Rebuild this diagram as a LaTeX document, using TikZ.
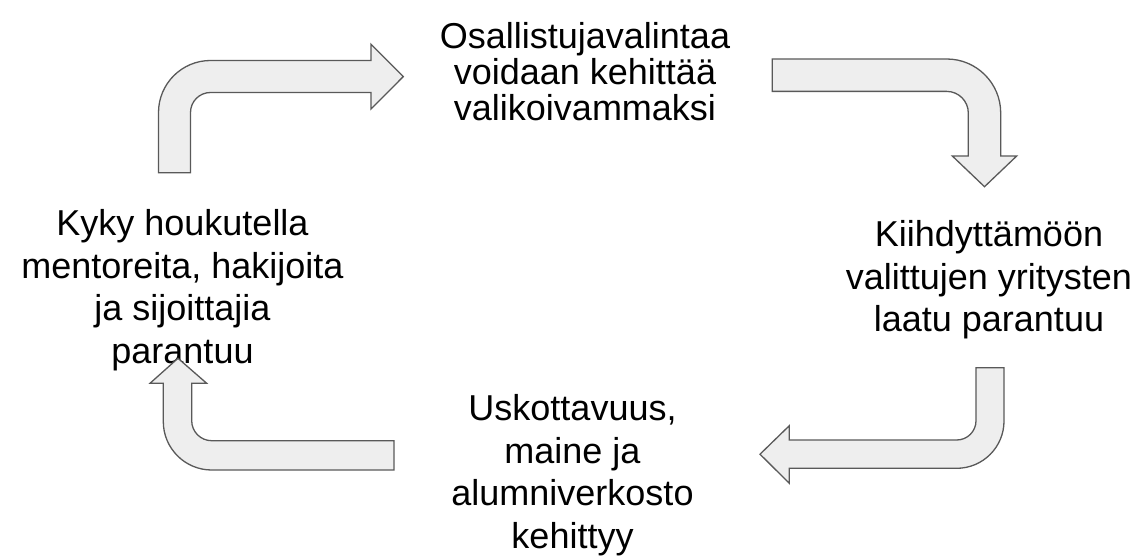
\documentclass[tikz,border=0pt]{standalone}
\usepackage{fontspec}
\setmainfont{Liberation Sans}
\begin{document}
\begin{tikzpicture}[x=1pt,y=-1pt,
  blockarrow/.style={fill=arrowfill,draw=arrowline,line width=1.3pt,line join=miter},
  label/.style={inner sep=0pt,align=center,anchor=base,text=black,font=\fontsize{36}{42.5}\selectfont},
  tightlabel/.style={label,font=\fontsize{36}{36.2}\selectfont}]
\definecolor{arrowfill}{HTML}{EEEEEE}
\definecolor{arrowline}{HTML}{595959}
\useasboundingbox (0,0) rectangle (1142,556);
% texts (anchor = baseline of last line)
\node[tightlabel] (t1) at (585,120.5) {Osallistujavalintaa\\voidaan kehittää\\valikoivammaksi};
\node[label] (t2) at (989,331.7) {Kiihdyttämöön\\valittujen yritysten\\laatu parantuu};
\node[label] (t3) at (572.5,548.3) {Uskottavuus,\\maine ja\\alumniverkosto\\kehittyy};
\node[label] (t4) at (182.5,363.3) {Kyky houkutella\\mentoreita, hakijoita\\ja sijoittajia\\parantuu};
% arrow 1 (left -> top)
\draw[blockarrow] (158.5,172.7) -- (158.5,112.5) arc[start angle=180,end angle=270,radius=52]
  -- (371,60.5) -- (371,44.3) -- (403.3,76.6) -- (371,109) -- (371,92.5) -- (210.5,92.5)
  arc[start angle=270,end angle=180,radius=20] -- (190.5,172.7) -- cycle;
% arrow 2 (top -> right)
\draw[blockarrow] (772.3,59) -- (946.7,59) arc[start angle=270,end angle=360,radius=54]
  -- (1000.7,156) -- (1016.7,156) -- (984.5,186.7) -- (952.3,156) -- (968.3,156) -- (968.3,113)
  arc[start angle=360,end angle=270,radius=21.6] -- (772.3,91.4) -- cycle;
% arrow 3 (right -> bottom)
\draw[blockarrow] (1004,367.7) -- (1004,421) arc[start angle=0,end angle=90,radius=47.3]
  -- (789.3,468.3) -- (789.3,483.3) -- (760,454.2) -- (789.3,425.7) -- (789.3,440) -- (956.7,440)
  arc[start angle=90,end angle=0,radius=19.3] -- (976,367.7) -- cycle;
% arrow 4 (bottom -> left)
\draw[blockarrow] (394,470) -- (211.7,470) arc[start angle=90,end angle=180,radius=48.4]
  -- (163.3,383.3) -- (150,383.3) -- (178,358.3) -- (206.7,383.3) -- (191.7,383.3) -- (191.7,420.7)
  arc[start angle=180,end angle=90,radius=20] -- (394,440.7) -- cycle;
\end{tikzpicture}
\end{document}
